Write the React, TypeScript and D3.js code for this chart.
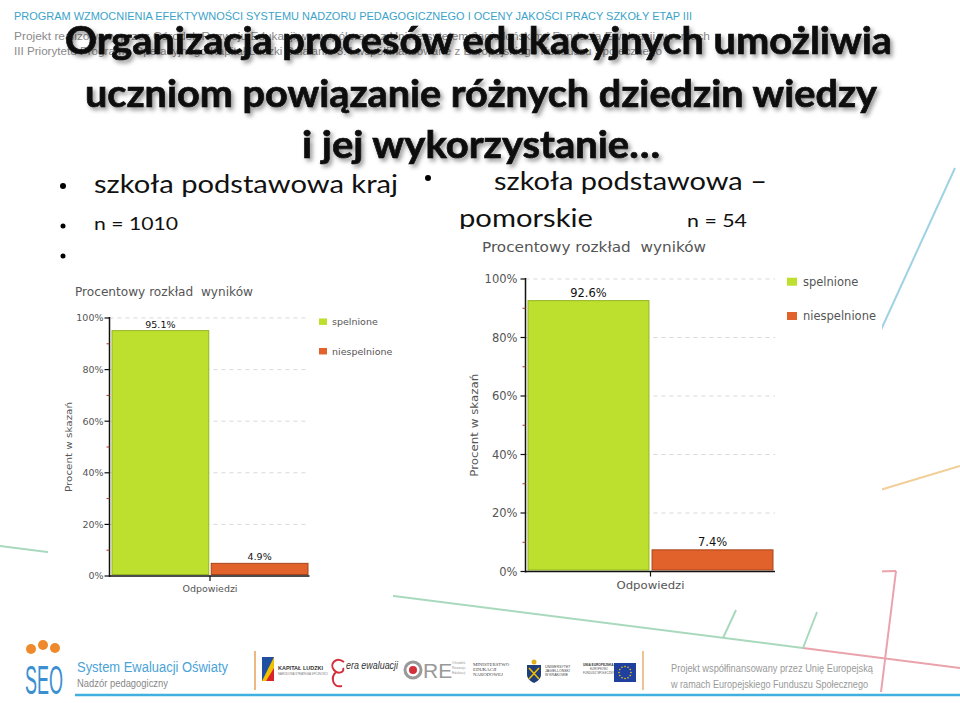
import React from 'react';
import * as d3 from 'd3';

// ---------- data ----------
const categories = ['spelnione', 'niespelnione'];
const krajValues = [95.1, 4.9];
const pomorskieValues = [92.6, 7.4];
const yTickValues = [0, 20, 40, 60, 80, 100];
const minorTickValues = [10, 30, 50, 70, 90];
const barColors = ['#bde02e', '#e2622b'];
const barStrokes = ['#93b41e', '#a8441a'];
const chartTitle = 'Procentowy rozkład  wyników';
const yAxisTitle = 'Procent w skazań';
const xAxisTitle = 'Odpowiedzi';

const titleLines = [
  'Organizacja procesów edukacyjnych umożliwia',
  'uczniom powiązanie różnych dziedzin wiedzy',
  'i jej wykorzystanie…',
];
const headerLines = [
  'PROGRAM WZMOCNIENIA EFEKTYWNOŚCI SYSTEMU NADZORU PEDAGOGICZNEGO I OCENY JAKOŚCI PRACY SZKOŁY ETAP III',
  'Projekt realizowany przez Ośrodek Rozwoju Edukacji we współpracy z Uniwersytetem Jagiellońskim i Fundacją Ewaluacji w ramach',
  'III Priorytetu Programu Operacyjnego Kapitał Ludzki Działanie 3.4 współfinansowane z Europejskiego Funduszu Społecznego',
];

const FONT_CHART = '"DejaVu Sans", Verdana, sans-serif';
const FONT_SLIDE = 'Lato, "Open Sans", sans-serif';
const FONT_ARIAL = '"Liberation Sans", Arial, sans-serif';

type Layout = {
  axisX: number; top: number; bottom: number; right: number;
  barLeft: number; barRight: number;
  titleX: number; titleY: number; titleSize: number; titleLen: number;
  tickSize: number; tickGap: number;
  yTitleX: number; yTitleSize: number; yTitleLen: number;
  valueSize: number; valueGap: number;
  xTitleY: number; xTitleSize: number; xTitleLen: number;
  legendX: number; legendY: number; legendGap: number; sqW: number; sqH: number;
  legendTextX: number; legendSize: number;
};

const leftLayout: Layout = {
  axisX: 109.5, top: 318, bottom: 576, right: 309.5,
  barLeft: 112, barRight: 308,
  titleX: 75, titleY: 296, titleSize: 11.5, titleLen: 178,
  tickSize: 9.5, tickGap: 6,
  yTitleX: 69, yTitleSize: 9.5, yTitleLen: 90,
  valueSize: 9.5, valueGap: 3,
  xTitleY: 591.5, xTitleSize: 9.5, xTitleLen: 55,
  legendX: 319, legendY: 321.7, legendGap: 29.5, sqW: 8, sqH: 6.5,
  legendTextX: 332, legendSize: 9.5,
};

const rightLayout: Layout = {
  axisX: 525.5, top: 279, bottom: 571.5, right: 775,
  barLeft: 528, barRight: 773,
  titleX: 482, titleY: 252, titleSize: 14, titleLen: 224,
  tickSize: 11.5, tickGap: 8,
  yTitleX: 474, yTitleSize: 11, yTitleLen: 103,
  valueSize: 11.5, valueGap: 4,
  xTitleY: 588.5, xTitleSize: 11, xTitleLen: 68,
  legendX: 787, legendY: 281.7, legendGap: 34.3, sqW: 10, sqH: 8,
  legendTextX: 803, legendSize: 11.5,
};

function BarChart({ values, L }: { values: number[]; L: Layout }) {
  const y = d3.scaleLinear().domain([0, 100]).range([L.bottom, L.top]);
  const x = d3.scaleBand<string>().domain(categories).range([L.barLeft, L.barRight]).paddingInner(0.025);
  const bw = x.bandwidth();
  const midX = ((x(categories[0]) as number) + bw + (x(categories[1]) as number)) / 2;
  const yMid = (L.top + L.bottom) / 2;
  return (
    <g>
      <text x={L.titleX} y={L.titleY} fontSize={L.titleSize} fill="#555" fontFamily={FONT_CHART}
        textLength={L.titleLen} lengthAdjust="spacingAndGlyphs" style={{ whiteSpace: 'pre' }}>{chartTitle}</text>
      {yTickValues.filter(t => t > 0).map(t => (
        <line key={'g' + t} x1={L.axisX} x2={L.right} y1={y(t)} y2={y(t)} stroke="#d9d9d9" strokeDasharray="4,4" />
      ))}
      {values.map((v, i) => (
        <rect key={categories[i]} x={x(categories[i])} y={y(v)} width={bw} height={y(0) - 1.5 - y(v)}
          fill={barColors[i]} stroke={barStrokes[i]} strokeWidth={1} />
      ))}
      {values.map((v, i) => (
        <text key={'v' + i} x={(x(categories[i]) as number) + bw / 2} y={y(v) - L.valueGap} textAnchor="middle"
          fontSize={L.valueSize} fill="#111" fontFamily={FONT_CHART}>{`${v.toFixed(1)}%`}</text>
      ))}
      <line x1={L.axisX} x2={L.axisX} y1={L.top - 1} y2={L.bottom + 1} stroke="#111" strokeWidth={1.5} />
      <line x1={L.axisX} x2={L.right} y1={L.bottom} y2={L.bottom} stroke="#111" strokeWidth={1.5} />
      {yTickValues.map(t => (
        <g key={'t' + t}>
          <line x1={L.axisX - 5} x2={L.axisX} y1={y(t)} y2={y(t)} stroke="#111" strokeWidth={1.2} />
          <text x={L.axisX - L.tickGap} y={y(t) + L.tickSize * 0.36} textAnchor="end" fontSize={L.tickSize}
            fill="#555" fontFamily={FONT_CHART}>{`${t}%`}</text>
        </g>
      ))}
      {minorTickValues.map(t => (
        <line key={'m' + t} x1={L.axisX - 3} x2={L.axisX} y1={y(t)} y2={y(t)} stroke="#b03030" strokeWidth={1} />
      ))}
      <line x1={midX} x2={midX} y1={L.bottom} y2={L.bottom + 5} stroke="#111" strokeWidth={1.2} />
      <text x={midX} y={L.xTitleY} textAnchor="middle" fontSize={L.xTitleSize} fill="#555" fontFamily={FONT_CHART}
        textLength={L.xTitleLen} lengthAdjust="spacingAndGlyphs">{xAxisTitle}</text>
      <text transform={`translate(${L.yTitleX},${yMid}) rotate(-90)`} textAnchor="middle" dy="0.35em"
        fontSize={L.yTitleSize} fill="#555" fontFamily={FONT_CHART}
        textLength={L.yTitleLen} lengthAdjust="spacingAndGlyphs">{yAxisTitle}</text>
      {categories.map((c, i) => (
        <g key={'l' + c}>
          <rect x={L.legendX} y={L.legendY + i * L.legendGap - L.sqH / 2} width={L.sqW} height={L.sqH} fill={barColors[i]} />
          <text x={L.legendTextX} y={L.legendY + i * L.legendGap + L.legendSize * 0.35} fontSize={L.legendSize}
            fill="#555" fontFamily={FONT_CHART}>{c}</text>
        </g>
      ))}
    </g>
  );
}

function Footer() {
  return (
    <g>
      {/* SEO logo */}
      <circle cx={31} cy={649} r={5} fill="#ee8a2c" />
      <circle cx={43} cy={645} r={5} fill="#ee8a2c" />
      <circle cx={55} cy={648} r={5} fill="#ee8a2c" />
      <text x={25} y={694} fontSize={40} fill="#3a8fd0" fontFamily={FONT_ARIAL} textLength={38} lengthAdjust="spacingAndGlyphs">SEO</text>
      <text x={77} y={672} fontSize={14} fill="#4aa3d8" fontFamily={FONT_ARIAL} textLength={151} lengthAdjust="spacingAndGlyphs">System Ewaluacji Oświaty</text>
      <text x={77} y={686.5} fontSize={10.5} fill="#888" fontFamily={FONT_ARIAL} textLength={91} lengthAdjust="spacingAndGlyphs">Nadzór pedagogiczny</text>
      <line x1={255} x2={255} y1={651} y2={690} stroke="#e6a25a" strokeWidth={1.5} />
      {/* Kapitał Ludzki */}
      <rect x={262} y={657} width={12} height={24} fill="#1f4ea3" />
      <path d="M262,681 L274,657 L274,681 Z" fill="#f2c100" />
      <path d="M266,681 L274,668 L274,681 Z" fill="#d8232a" />
      <text x={278} y={670} fontSize={5.5} fontWeight={700} fill="#333" fontFamily={FONT_ARIAL}>KAPITAŁ LUDZKI</text>
      <text x={278} y={675} fontSize={2.8} fill="#777" fontFamily={FONT_ARIAL}>NARODOWA STRATEGIA SPÓJNOŚCI</text>
      {/* era ewaluacji */}
      <path d="M344,662 C336,656 329,664 334,670 C338,675 345,672 343,668 M336,672 C330,678 333,688 342,686" fill="none" stroke="#d3303c" strokeWidth={2} />
      <text x={346} y={669} fontSize={11.5} fontStyle="italic" fill="#333" fontFamily={FONT_ARIAL} textLength={52} lengthAdjust="spacingAndGlyphs">era ewaluacji</text>
      {/* ORE */}
      <circle cx={413} cy={670} r={8} fill="none" stroke="#999" strokeWidth={3} />
      <circle cx={413} cy={670} r={4} fill="#d3303c" />
      <text x={423} y={678} fontSize={21} fill="#999" fontFamily={FONT_ARIAL}>RE</text>
      <text x={452} y={664} fontSize={3.5} fill="#999" fontFamily={FONT_ARIAL}>Ośrodek</text>
      <text x={452} y={669} fontSize={3.5} fill="#999" fontFamily={FONT_ARIAL}>Rozwoju</text>
      <text x={452} y={674} fontSize={3.5} fill="#999" fontFamily={FONT_ARIAL}>Edukacji</text>
      {/* Ministerstwo */}
      <text x={473} y={666} fontSize={4.8} fill="#444" fontFamily={'"Liberation Serif", serif'}>MINISTERSTWO</text>
      <text x={473} y={671} fontSize={4.8} fill="#444" fontFamily={'"Liberation Serif", serif'}>EDUKACJI</text>
      <text x={473} y={676} fontSize={4.8} fill="#444" fontFamily={'"Liberation Serif", serif'}>NARODOWEJ</text>
      {/* UJ */}
      <path d="M527,665 L541,665 L541,675 C541,680 534,683 534,683 C534,683 527,680 527,675 Z" fill="#1f3e7a" />
      <path d="M529,668 L539,679 M539,668 L529,679" stroke="#f2c100" strokeWidth={1.5} />
      <circle cx={534} cy={662} r={2.5} fill="#e0b020" />
      <text x={545} y={668} fontSize={3.5} fill="#444" fontFamily={FONT_ARIAL}>UNIWERSYTET</text>
      <text x={545} y={672} fontSize={3.5} fill="#444" fontFamily={FONT_ARIAL}>JAGIELLOŃSKI</text>
      <text x={545} y={676} fontSize={3.5} fill="#444" fontFamily={FONT_ARIAL}>W KRAKOWIE</text>
      {/* UE */}
      <text x={583} y={666} fontSize={3.2} fontWeight={700} fill="#333" fontFamily={FONT_ARIAL}>UNIA EUROPEJSKA</text>
      <text x={590} y={670} fontSize={2.8} fill="#555" fontFamily={FONT_ARIAL}>EUROPEJSKI</text>
      <text x={583} y={674} fontSize={2.8} fill="#555" fontFamily={FONT_ARIAL}>FUNDUSZ SPOŁECZNY</text>
      <rect x={614} y={663} width={22} height={19} fill="#2040a0" />
      {d3.range(12).map(i => (
        <circle key={'s' + i} cx={625 + 6 * Math.cos((i / 12) * 2 * Math.PI)} cy={672.5 + 6 * Math.sin((i / 12) * 2 * Math.PI)} r={0.8} fill="#f5d000" />
      ))}
      <line x1={643} x2={643} y1={651} y2={690} stroke="#e6b070" strokeWidth={1.5} />
      <text x={671} y={672} fontSize={11} fill="#999" fontFamily={FONT_ARIAL} textLength={202} lengthAdjust="spacingAndGlyphs">Projekt współfinansowany przez Unię Europejską</text>
      <text x={671} y={687.5} fontSize={11} fill="#999" fontFamily={FONT_ARIAL} textLength={197} lengthAdjust="spacingAndGlyphs">w ramach Europejskiego Funduszu Społecznego</text>
      <line x1={75} x2={960} y1={695} y2={695} stroke="#3fb0e0" strokeWidth={2.5} />
    </g>
  );
}

export default function App() {
  const titleSpans = [
    { x: 65, y: 54, len: 827 },
    { x: 85, y: 107, len: 792 },
    { x: 302, y: 158, len: 358 },
  ];
  return (
    <svg width={960} height={703} viewBox="0 0 960 703" style={{ position: 'absolute', left: 0, top: 0, background: '#fff' }}>
      <defs>
        <filter id="tshadow" x="-5%" y="-30%" width="110%" height="160%">
          <feDropShadow dx={2.5} dy={3} stdDeviation={2} floodColor="#000" floodOpacity={0.4} />
        </filter>
      </defs>
      <rect x={0} y={0} width={960} height={703} fill="#fff" />

      {/* decorative background lines */}
      <line x1={0} y1={546} x2={803} y2={648} stroke="#a9d9bd" strokeWidth={2} />
      <line x1={803} y1={648} x2={960} y2={668} stroke="#eaa3ac" strokeWidth={2} />
      <line x1={736} y1={610} x2={723} y2={638} stroke="#a9d9bd" strokeWidth={2} />
      <line x1={817} y1={612} x2={803} y2={648} stroke="#a9d9bd" strokeWidth={2} />
      <line x1={860} y1={572} x2={896} y2={571} stroke="#eaa3ac" strokeWidth={2} />
      <line x1={896} y1={571} x2={881} y2={692} stroke="#eaa3ac" strokeWidth={2} />
      <line x1={880} y1={490} x2={960} y2={466} stroke="#f2cf98" strokeWidth={2} />
      <line x1={880} y1={332} x2={955} y2={168} stroke="#9fd2e4" strokeWidth={2} />

      {/* header */}
      <text x={14} y={20} fontSize={11} fill="#3ba3c9" fontFamily={FONT_ARIAL} textLength={678} lengthAdjust="spacingAndGlyphs">{headerLines[0]}</text>
      <text x={14} y={40} fontSize={11} fill="#8a8a8a" fontFamily={FONT_ARIAL} textLength={696} lengthAdjust="spacingAndGlyphs">{headerLines[1]}</text>
      <text x={14} y={55} fontSize={11} fill="#8a8a8a" fontFamily={FONT_ARIAL} textLength={648} lengthAdjust="spacingAndGlyphs">{headerLines[2]}</text>

      {/* title */}
      <g filter="url(#tshadow)">
        {titleLines.map((t, i) => (
          <text key={i} x={titleSpans[i].x} y={titleSpans[i].y} fontSize={38} fontWeight={700} fill="#0a0a0a"
            stroke="#0a0a0a" strokeWidth={0.7}
            fontFamily={FONT_SLIDE} textLength={titleSpans[i].len} lengthAdjust="spacingAndGlyphs">{t}</text>
        ))}
      </g>

      {/* bullets */}
      <circle cx={63} cy={186} r={3} fill="#000" />
      <text x={94} y={193} fontSize={25} fill="#111" fontFamily={FONT_SLIDE} textLength={304} lengthAdjust="spacingAndGlyphs">szkoła podstawowa kraj</text>
      <circle cx={63} cy={226} r={2.5} fill="#000" />
      <text x={94} y={230} fontSize={18} fill="#111" fontFamily={FONT_SLIDE} textLength={84} lengthAdjust="spacingAndGlyphs">n = 1010</text>
      <circle cx={63} cy={256} r={2.5} fill="#000" />
      <circle cx={428} cy={178} r={3} fill="#000" />
      <text x={494} y={190} fontSize={25} fill="#111" fontFamily={FONT_SLIDE} textLength={273} lengthAdjust="spacingAndGlyphs">szkoła podstawowa –</text>
      <text x={459} y={227} fontSize={25} fill="#111" fontFamily={FONT_SLIDE} textLength={134} lengthAdjust="spacingAndGlyphs">pomorskie</text>
      <text x={687} y={227} fontSize={18} fill="#111" fontFamily={FONT_SLIDE} textLength={60} lengthAdjust="spacingAndGlyphs">n = 54</text>

      {/* chart image backgrounds */}
      <rect x={48} y={268} width={345} height={331} fill="#fff" />
      <rect x={455} y={229} width={427} height={371} fill="#fff" />

      <BarChart values={krajValues} L={leftLayout} />
      <BarChart values={pomorskieValues} L={rightLayout} />

      <Footer />
    </svg>
  );
}
